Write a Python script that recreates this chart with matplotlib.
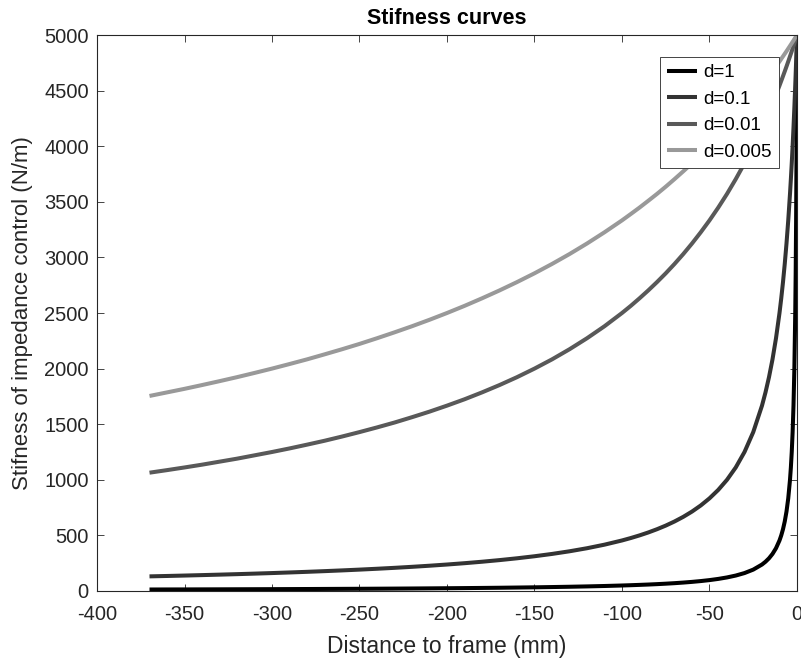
import matplotlib

matplotlib.use("Agg")
import matplotlib.pyplot as plt

# distance to frame (mm), shared by all curves
distance = [
    -370, -360, -350, -340, -330, -320, -310, -300, -290, -280, -270, -260, -250, -240,
    -230, -220, -210, -200, -190, -180, -170, -160, -150, -140, -130, -120, -110, -100,
    -95, -90, -85, -80, -75, -70, -65, -60, -55, -50, -45, -40, -35, -30, -25,
    -20, -18, -16, -14, -12, -10, -9, -8, -7, -6, -5, -4, -3.5, -3, -2.5, -2, -1.5,
    -1, -0.75, -0.5, -0.25, 0,
]

# stiffness (N/m)
k_d1 = [
    13.5, 13.9, 14.2, 14.7, 15.1, 15.6, 16.1, 16.6, 17.2, 17.8, 18.5, 19.2, 19.9, 20.7,
    21.6, 22.6, 23.7, 24.9, 26.2, 27.6, 29.2, 31.1, 33.1, 35.5, 38.2, 41.3, 45.0, 49.5,
    52.1, 55.0, 58.1, 61.7, 65.8, 70.4, 75.8, 82.0, 89.3, 98.0, 108.7, 122.0, 138.9, 161.3, 192.3,
    238.1, 263.2, 294.1, 333.3, 384.6, 454.5, 500, 555.6, 625, 714.3, 833.3, 1000, 1111, 1250, 1429, 1667, 2000,
    2500, 2857, 3333, 4000, 5000,
]
k_d01 = [
    131.6, 135.1, 138.9, 142.9, 147.1, 151.5, 156.3, 161.3, 166.7, 172.4, 178.6, 185.2, 192.3, 200,
    208.3, 217.4, 227.3, 238.1, 250, 263.2, 277.8, 294.1, 312.5, 333.3, 357.1, 384.6, 416.7, 454.5,
    476.2, 500, 526.3, 555.6, 588.2, 625, 666.7, 714.3, 769.2, 833.3, 909.1, 1000, 1111, 1250, 1429,
    1667, 1786, 1923, 2083, 2273, 2500, 2632, 2778, 2941, 3125, 3333, 3571, 3704, 3846, 4000, 4167, 4348,
    4545, 4651, 4762, 4878, 5000,
]
k_d001 = [
    1064, 1087, 1111, 1136, 1163, 1190, 1220, 1250, 1282, 1316, 1351, 1389, 1429, 1471,
    1515, 1563, 1613, 1667, 1724, 1786, 1852, 1923, 2000, 2083, 2174, 2273, 2381, 2500,
    2564, 2632, 2703, 2778, 2857, 2941, 3030, 3125, 3226, 3333, 3448, 3571, 3704, 3846, 4000,
    4167, 4237, 4310, 4386, 4464, 4545, 4587, 4630, 4673, 4717, 4762, 4808, 4831, 4854, 4878, 4902, 4926,
    4950, 4963, 4975, 4988, 5000,
]
k_d0005 = [
    1754, 1786, 1818, 1852, 1887, 1923, 1961, 2000, 2041, 2083, 2128, 2174, 2222, 2273,
    2326, 2381, 2439, 2500, 2564, 2632, 2703, 2778, 2857, 2941, 3030, 3125, 3226, 3333,
    3390, 3448, 3509, 3571, 3636, 3704, 3774, 3846, 3922, 4000, 4082, 4167, 4255, 4348, 4444,
    4545, 4587, 4630, 4673, 4717, 4762, 4785, 4808, 4831, 4854, 4878, 4902, 4914, 4926, 4938, 4950, 4963,
    4975, 4981, 4988, 4994, 5000,
]

labels = ["d=1", "d=0.1", "d=0.01", "d=0.005"]
series = [k_d1, k_d01, k_d001, k_d0005]
colors = ["#000000", "#333333", "#595959", "#999999"]

plt.rcParams["font.family"] = ["Liberation Sans", "DejaVu Sans"]
plt.rcParams["axes.unicode_minus"] = False

fig = plt.figure(figsize=(8.01, 6.63), dpi=100)
ax = fig.add_axes([0.1211, 0.1086, 0.8739, 0.8386])

for k, lab, c in zip(series, labels, colors):
    ax.plot(distance, k, color=c, linewidth=2.9, label=lab, solid_capstyle="butt")

ax.set_xlim(-400, 0)
ax.set_ylim(0, 5000)
ax.set_xticks(range(-400, 1, 50))
ax.set_yticks(range(0, 5001, 500))

axis_col = "#262626"
for s in ax.spines.values():
    s.set_color(axis_col)
    s.set_linewidth(0.8)
ax.tick_params(direction="in", top=True, right=True, length=5, width=0.6,
               colors=axis_col, labelsize=14.5)
ax.tick_params(axis="x", pad=10)
ax.tick_params(axis="y", pad=6)

ax.set_xlabel("Distance to frame (mm)", fontsize=16.5, color=axis_col, labelpad=8)
ax.set_ylabel("Stifness of impedance control (N/m)", fontsize=16, color=axis_col, labelpad=8)
ax.set_title("Stifness curves", fontsize=15.5, fontweight="bold", color="black", pad=8)

leg = ax.legend(loc="upper right", bbox_to_anchor=(0.974, 0.96), borderaxespad=0,
                fontsize=13.5, handlelength=1.6, handletextpad=0.32, labelspacing=0.5,
                borderpad=0.38, fancybox=False, framealpha=1)
leg.get_frame().set_edgecolor(axis_col)
leg.get_frame().set_linewidth(0.6)

fig.savefig("out.png", dpi=100)
